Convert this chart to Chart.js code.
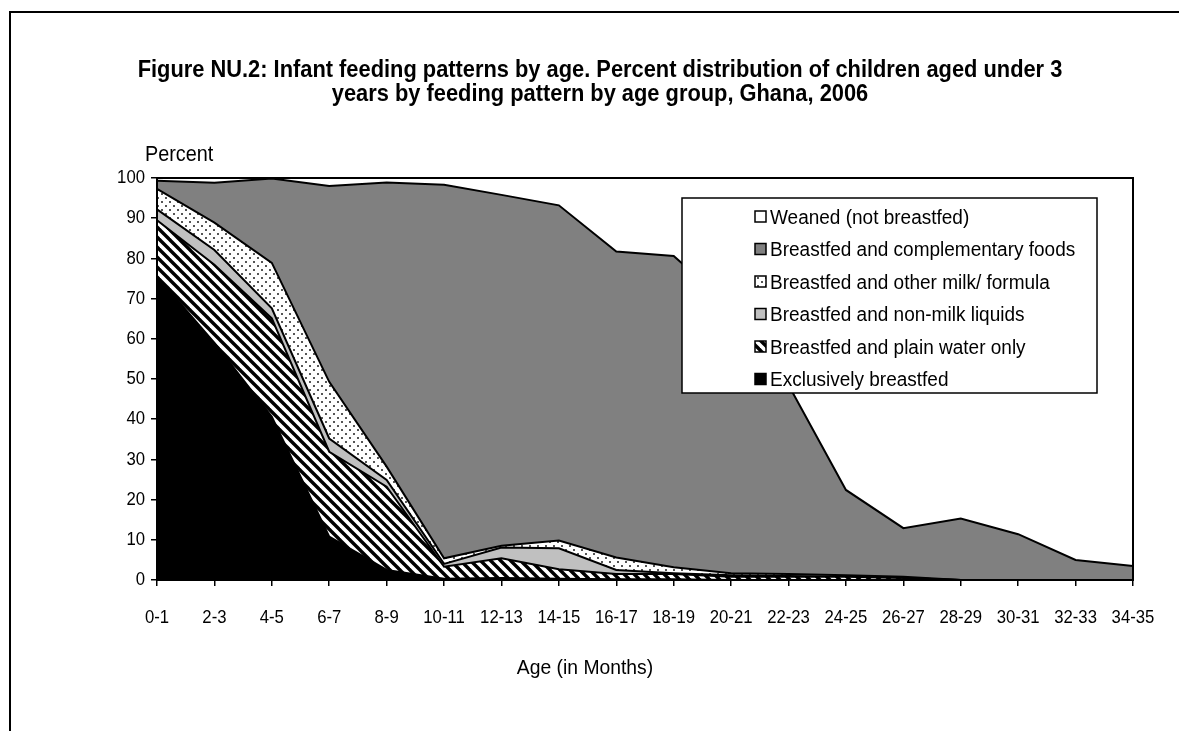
<!DOCTYPE html>
<html><head><meta charset="utf-8">
<script src="https://cdn.jsdelivr.net/npm/chart.js@4"></script>
<style>html,body{margin:0;padding:0;background:#fff;overflow:hidden}canvas{display:block}</style>
</head><body>
<canvas id="c" width="1179" height="731"></canvas>
<script>
// ---- data (percent of children, by age group) ----
const categories = ['0-1','2-3','4-5','6-7','8-9','10-11','12-13','14-15','16-17','18-19','20-21','22-23','24-25','26-27','28-29','30-31','32-33','34-35'];
const exclusivelyBreastfed = [75.5, 59.0, 40.6, 10.8, 2.5, 0.3, 0.5, 0.3, 0.2, 0.2, 0, 0, 0, 0, 0, 0, 0, 0];
const plainWaterOnly       = [14.0, 19.4, 24.5, 21.1, 20.7, 3.0, 4.9, 2.4, 1.3, 1.3, 0.8, 0.8, 0.8, 0.5, 0, 0, 0, 0];
const nonMilkLiquids       = [2.7, 3.7, 2.5, 3.3, 1.7, 0.7, 2.7, 5.2, 1.0, 0.2, 0.4, 0.2, 0, 0, 0, 0, 0, 0];
const otherMilkFormula     = [5.1, 6.8, 11.3, 14.1, 3.3, 1.4, 0.4, 1.9, 3.1, 1.5, 0.5, 0.5, 0.4, 0.3, 0, 0, 0, 0];
const complementaryFoods   = [2.0, 9.9, 21.0, 48.7, 70.7, 92.9, 87.3, 83.4, 76.1, 77.4, 66.3, 47.0, 21.2, 12.1, 15.3, 11.4, 5.0, 3.5];
const weaned               = [0.7, 1.2, 0.1, 2.0, 1.1, 1.7, 4.2, 6.8, 18.3, 19.4, 32.0, 51.5, 77.6, 87.1, 84.7, 88.6, 95.0, 96.5];
const yTicks = [0,10,20,30,40,50,60,70,80,90,100];
const seriesNames = ['Exclusively breastfed','Breastfed and plain water only','Breastfed and non-milk liquids','Breastfed and other milk/ formula','Breastfed and complementary foods','Weaned (not breastfed)'];
const titleLines = ['Figure NU.2: Infant feeding patterns by age. Percent distribution of children aged under 3','years by feeding pattern by age group, Ghana, 2006'];
const yAxisTitle = 'Percent';
const xAxisTitle = 'Age (in Months)';

const FONT = '"Liberation Sans",Arial,sans-serif';

// draw horizontally condensed text (reference uses a narrow face)
function txt(ctx, s, x, y, size, sx, align, bold){
  ctx.save();
  ctx.translate(x, y); ctx.scale(sx, 1);
  ctx.font = (bold ? 'bold ' : '') + size + 'px ' + FONT;
  ctx.textAlign = align; ctx.textBaseline = 'middle'; ctx.fillStyle = '#000';
  ctx.fillText(s, 0, 0);
  ctx.restore();
}

// ---- fill patterns ----
function stripePattern(){
  const s = 10, c = document.createElement('canvas'); c.width = s; c.height = s;
  const g = c.getContext('2d'); g.fillStyle = '#fff'; g.fillRect(0,0,s,s);
  g.strokeStyle = '#000'; g.lineWidth = 3.4;
  for (const off of [-s, 0, s]) { g.beginPath(); g.moveTo(off-2, -2); g.lineTo(off+s+2, s+2); g.stroke(); }
  return document.getElementById('c').getContext('2d').createPattern(c,'repeat');
}
function dotPattern(){
  const s = 8, c = document.createElement('canvas'); c.width = s; c.height = s;
  const g = c.getContext('2d'); g.fillStyle = '#fff'; g.fillRect(0,0,s,s);
  g.fillStyle = '#555';
  g.fillRect(1,1,2,2); g.fillRect(5,5,2,2);
  return document.getElementById('c').getContext('2d').createPattern(c,'repeat');
}
const fills = ['#000000', stripePattern(), '#c0c0c0', dotPattern(), '#808080', '#ffffff'];
const seriesData = [exclusivelyBreastfed, plainWaterOnly, nonMilkLiquids, otherMilkFormula, complementaryFoods, weaned];

const datasets = seriesData.map((d,i)=>({
  label: seriesNames[i], data: d,
  backgroundColor: fills[i], borderColor: '#000', borderWidth: 2,
  pointRadius: 0, tension: 0, fill: i === 0 ? 'origin' : '-1', clip: 4
}));

const decor = {
  id: 'decor',
  beforeDraw(chart){
    const ctx = chart.ctx; ctx.save();
    ctx.fillStyle = '#fff'; ctx.fillRect(0,0,chart.width,chart.height);
    ctx.strokeStyle = '#000'; ctx.lineWidth = 2;
    ctx.strokeRect(10, 12, chart.width + 20, chart.height + 20);
    ctx.restore();
    txt(ctx, titleLines[0], 600, 70, 24, 0.91, 'center', true);
    txt(ctx, titleLines[1], 600, 94, 24, 0.91, 'center', true);
    txt(ctx, yAxisTitle, 145, 155, 22, 0.9, 'left', false);
    txt(ctx, xAxisTitle, 585, 668, 21, 0.92, 'center', false);
  },
  afterDraw(chart){
    const ctx = chart.ctx, a = chart.chartArea; ctx.save();
    ctx.strokeStyle = '#000'; ctx.lineWidth = 2;
    ctx.strokeRect(a.left, a.top, a.right - a.left, a.bottom - a.top);
    // tick labels, positioned by the library's scales
    const xs = chart.scales.x, ys = chart.scales.y;
    xs.ticks.forEach((t, i) => txt(ctx, String(t.label), xs.getPixelForTick(i), 618, 19, 0.88, 'center', false));
    ys.ticks.forEach((t, i) => txt(ctx, String(t.label), a.left - 12, ys.getPixelForTick(i), 19, 0.88, 'right', false));
    // legend box
    const bx = 682, by = 198, bw = 415, bh = 195;
    ctx.fillStyle = '#fff'; ctx.fillRect(bx,by,bw,bh);
    ctx.lineWidth = 1.5; ctx.strokeStyle = '#000'; ctx.strokeRect(bx,by,bw,bh);
    for (let k = 0; k < 6; k++) {
      const i = 5 - k;
      const y = 218 + k * 32.5;
      ctx.fillStyle = fills[i];
      ctx.fillRect(755, y - 7, 11, 11);
      ctx.lineWidth = 1.5; ctx.strokeStyle = '#000';
      ctx.strokeRect(755, y - 7, 11, 11);
      txt(ctx, seriesNames[i], 770, y, 20, 0.95, 'left', false);
    }
    ctx.restore();
  }
};

new Chart(document.getElementById('c'), {
  type: 'line',
  data: { labels: categories, datasets },
  options: {
    responsive: false, devicePixelRatio: 1, animation: false,
    layout: { padding: { left: 0, top: 178, right: 46, bottom: 111 } },
    plugins: { legend: { display: false }, title: { display: false }, tooltip: { enabled: false }, filler: { propagate: false } },
    elements: { line: { borderJoinStyle: 'miter' } },
    scales: {
      x: {
        offset: false,
        afterFit(s){ s.height = 40; },
        grid: { display: true, drawOnChartArea: false, drawTicks: true, tickLength: 6, color: '#000', lineWidth: 1.5 },
        border: { display: true, color: '#000', width: 2 },
        ticks: { display: false, autoSkip: false, maxRotation: 0 }
      },
      y: {
        stacked: true, min: 0, max: 100,
        afterFit(s){ s.width = 157; },
        afterBuildTicks(s){ s.ticks = yTicks.map(v => ({ value: v })); },
        grid: { display: true, drawOnChartArea: false, drawTicks: true, tickLength: 6, color: '#000', lineWidth: 1.5 },
        border: { display: true, color: '#000', width: 2 },
        ticks: { display: false }
      }
    }
  },
  plugins: [decor]
});
</script>
</body></html>
